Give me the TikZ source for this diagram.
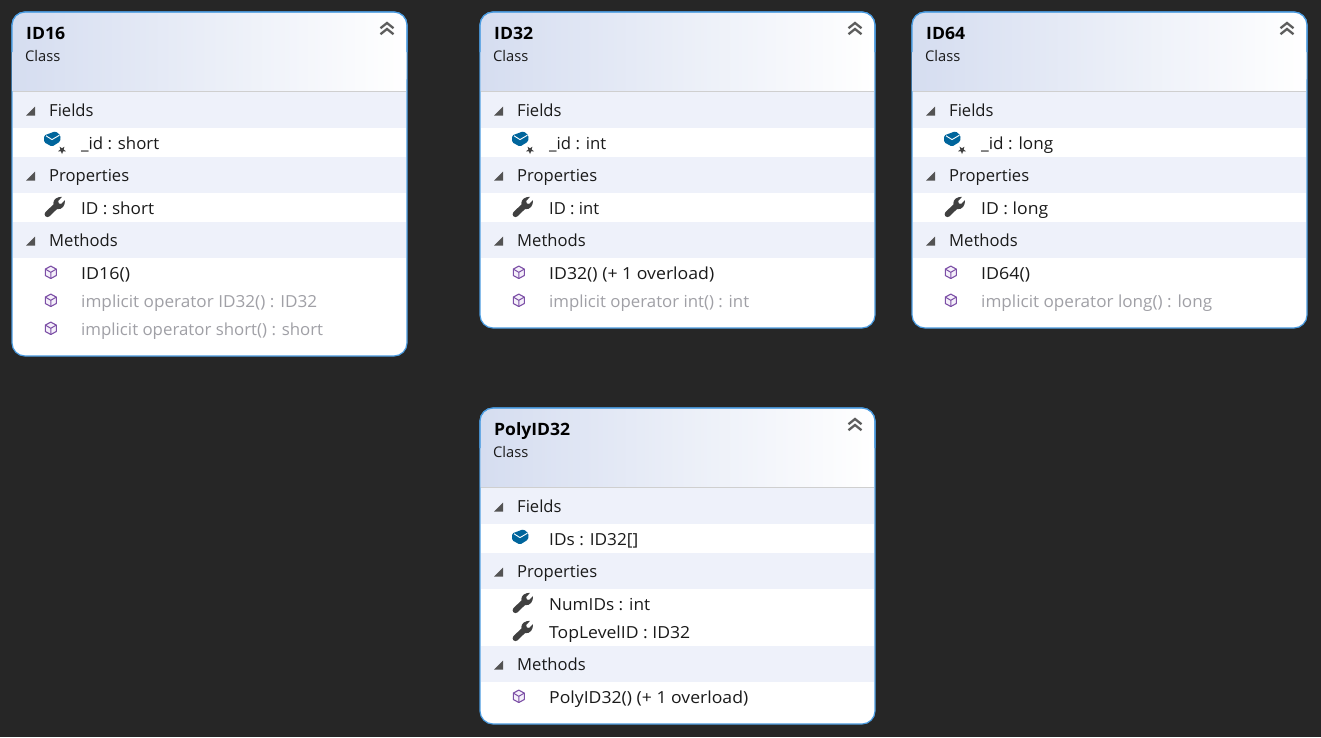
\documentclass[tikz,border=0pt]{standalone}
\usepackage{graphicx}
\usepackage{fontspec}
\setmainfont{Open Sans}
\definecolor{bgdark}{HTML}{262626}
\definecolor{edgeblue}{HTML}{4A9BE0}
\definecolor{headleft}{HTML}{D5DDF0}
\definecolor{secbg}{HTML}{EEF1FA}
\definecolor{sepgrey}{HTML}{CFCFCF}
\definecolor{inktext}{HTML}{1A1A1A}
\definecolor{dimtext}{HTML}{A0A0A6}
\definecolor{fieldblue}{HTML}{00659C}
\definecolor{methodpurple}{HTML}{7C4FA6}
\definecolor{methodfill}{HTML}{F5F0FA}
\definecolor{iconink}{HTML}{404040}
\newcommand{\uisize}{\fontsize{16.6}{20}\selectfont}
\newcommand{\fitw}[2]{\resizebox{#1pt}{\height}{#2}}
\tikzset{
  x=1pt,y=-1pt,
  boxbody/.style={draw=edgeblue,line width=1.2pt,fill=white,rounded corners=13pt},
  headtext/.style={anchor=base west,inner sep=0pt,font=\fontsize{17}{20}\selectfont\bfseries,text=black},
  subtext/.style={anchor=base west,inner sep=0pt,font=\fontsize{14.7}{18}\selectfont,text=inktext},
  sectext/.style={anchor=base west,inner sep=0pt,font=\uisize,text=inktext},
  membertext/.style={anchor=base west,inner sep=0pt,font=\uisize,text=inktext},
  dimmember/.style={membertext,text=dimtext},
}
% id, x, y, width, height, title, title width
\newcommand{\classbox}[7]{%
  \fill[boxbody] (#2,#3) rectangle ++(#4,#5);
  \begin{scope}[shift={(#2,#3)}]
    \shade[left color=headleft,right color=white,rounded corners=13pt]
      (0.6,79) -- (0.6,0.6) -- (#4-0.6,0.6) -- (#4-0.6,79) [sharp corners] -- cycle;
    \draw[edgeblue,line width=1.2pt,rounded corners=13pt] (0,40) -- (0,0) -- (#4,0) -- (#4,40);
    \draw[sepgrey,line width=1pt] (0.6,79.5) -- (#4-0.6,79.5);
    \node[headtext] (#1title) at (14,27.3) {\fitw{#7}{#6}};
    \node[subtext] (#1kind) at (13,49) {Class};
    \draw[iconink!85,line width=2.3pt] (#4-26.5,16.2) -- (#4-20,11) -- (#4-13.5,16.2);
    \draw[iconink!85,line width=2.3pt] (#4-26.5,22.2) -- (#4-20,17) -- (#4-13.5,22.2);
  \end{scope}}
% name, box width, top of band (local), label
\newcommand{\secrow}[4]{%
  \fill[secbg] (0.6,#3) rectangle (#2-0.6,#3+36);
  \fill[iconink!90] (23,#3+23.5) -- (23,#3+14.5) -- (14,#3+23.5) -- cycle;
  \node[sectext] (#1) at (37,#3+24.7) {#4};}
\newcommand{\fieldicon}[1]{%
  \begin{scope}[shift={(40,#1)}]
    \fill[fieldblue,rounded corners=1.5pt] (-8,-3.5) -- (3.5,-7.8) -- (8.6,-3.5) -- (8.2,2.5) -- (0,7.6) -- (-8,3.2) -- cycle;
    \draw[white,line width=0.9pt] (-6,-3.2) -- (0,0.6) -- (7.4,-3.8);
  \end{scope}}
\newcommand{\staricon}[1]{%
  \begin{scope}[shift={(50,#1+11)}]
    \fill[white] (0,0) circle (6);
    \fill[iconink] (90:4.2) -- (126:1.7) -- (162:4.2) -- (198:1.7) -- (234:4.2) -- (270:1.7)
      -- (306:4.2) -- (342:1.7) -- (18:4.2) -- (54:1.7) -- cycle;
  \end{scope}}
\newcommand{\wrenchicon}[1]{%
  \begin{scope}[shift={(42.5,#1)}]
    \draw[iconink,line width=5.8pt,line cap=round] (-7,7.2) -- (2,-1.5);
    \fill[iconink] (-1.2,-3.8) .. controls (-1.2,-7.8) and (3,-10.4) .. (7.6,-10.2) -- (3.8,-6.2) -- (4.2,-3.6) -- (6.8,-3.1) -- (10.4,-6.8)
      .. controls (11,-2) and (7.8,3) .. (2.5,2.2) -- cycle;
  \end{scope}}
\newcommand{\methodicon}[1]{%
  \begin{scope}[shift={(38.8,#1)}]
    \draw[methodpurple,fill=methodfill,line width=1.1pt,line join=round]
      (-5.5,-3.2) -- (0,-6.2) -- (5.5,-3.2) -- (5.5,3.2) -- (0,6.2) -- (-5.5,3.2) -- cycle;
    \draw[methodpurple,line width=1.0pt] (-5.5,-3.2) -- (0,0) -- (5.5,-3.2) (0,0) -- (0,6.2);
  \end{scope}}
% style, name, y baseline, text width, text
\newcommand{\memberrow}[5]{%
  \node[#1] (#2) at (69,#3) {\fitw{#4}{#5}};}
\newcommand{\memberrowm}[5]{%
  \methodicon{#3-7}\node[#1] (#2) at (69,#3) {\fitw{#4}{#5}};}
\begin{document}
\begin{tikzpicture}
\useasboundingbox (0,0) rectangle (1321,737);
\fill[bgdark] (0,0) rectangle (1321,737);

% ID16
\classbox{a}{12}{12}{395}{344}{ID16}{39}
\begin{scope}[shift={(12,12)}]
  \secrow{afields}{395}{80}{Fields}
  \fieldicon{127}\staricon{127}
  \memberrow{membertext}{aid}{137.3}{78}{\_id : short}
  \secrow{aprops}{395}{145}{Properties}
  \wrenchicon{195}
  \memberrow{membertext}{aidp}{202.3}{73}{ID : short}
  \secrow{amethods}{395}{210}{Methods}
  \memberrowm{membertext}{actor}{267.3}{49}{ID16()}
  \memberrowm{dimmember}{aop}{295.3}{236}{implicit operator ID32() : ID32}
  \memberrowm{dimmember}{aops}{323.3}{242}{implicit operator short() : short}
\end{scope}

% ID32
\classbox{b}{480}{12}{395}{316}{ID32}{39}
\begin{scope}[shift={(480,12)}]
  \secrow{bfields}{395}{80}{Fields}
  \fieldicon{127}\staricon{127}
  \memberrow{membertext}{bid}{137.3}{57}{\_id : int}
  \secrow{bprops}{395}{145}{Properties}
  \wrenchicon{195}
  \memberrow{membertext}{bidp}{202.3}{50}{ID : int}
  \secrow{bmethods}{395}{210}{Methods}
  \memberrowm{membertext}{bctor}{267.3}{165}{ID32() (+ 1 overload)}
  \memberrowm{dimmember}{bop}{295.3}{200}{implicit operator int() : int}
\end{scope}

% ID64
\classbox{c}{912}{12}{395}{316}{ID64}{39}
\begin{scope}[shift={(912,12)}]
  \secrow{cfields}{395}{80}{Fields}
  \fieldicon{127}\staricon{127}
  \memberrow{membertext}{cid}{137.3}{72}{\_id : long}
  \secrow{cprops}{395}{145}{Properties}
  \wrenchicon{195}
  \memberrow{membertext}{cidp}{202.3}{67}{ID : long}
  \secrow{cmethods}{395}{210}{Methods}
  \memberrowm{membertext}{cctor}{267.3}{49}{ID64()}
  \memberrowm{dimmember}{cop}{295.3}{231}{implicit operator long() : long}
\end{scope}

% PolyID32
\classbox{d}{480}{408}{395}{316}{PolyID32}{76}
\begin{scope}[shift={(480,408)}]
  \secrow{dfields}{395}{80}{Fields}
  \fieldicon{129}
  \memberrow{membertext}{dids}{137.3}{89}{IDs : ID32[]}
  \secrow{dprops}{395}{145}{Properties}
  \wrenchicon{195}
  \memberrow{membertext}{dnum}{202.3}{101}{NumIDs : int}
  \wrenchicon{223}
  \memberrow{membertext}{dtop}{230.3}{141}{TopLevelID : ID32}
  \secrow{dmethods}{395}{238}{Methods}
  \memberrowm{membertext}{dctor}{295.3}{199}{PolyID32() (+ 1 overload)}
\end{scope}
\end{tikzpicture}
\end{document}
